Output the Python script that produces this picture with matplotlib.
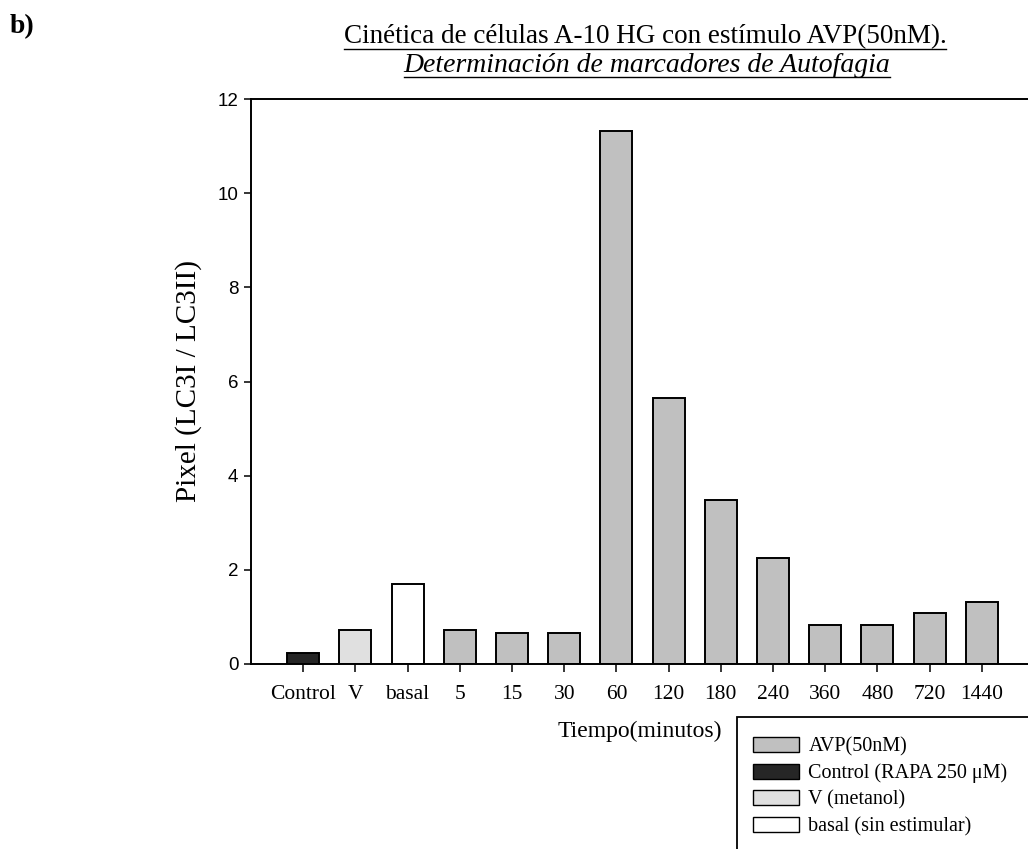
import matplotlib

matplotlib.use("Agg")
import matplotlib.pyplot as plt
from matplotlib.lines import Line2D
from matplotlib.patches import Patch, Rectangle

plt.rcParams["font.family"] = ["Liberation Serif", "DejaVu Serif"]

# LC3I / LC3II ratio per condition
categories = ["Control", "V", "basal", "5", "15", "30", "60", "120",
              "180", "240", "360", "480", "720", "1440"]
values = [0.23, 0.72, 1.70, 0.73, 0.66, 0.65, 11.32, 5.64,
          3.48, 2.25, 0.83, 0.83, 1.08, 1.31]
groups = ["Control", "V", "basal"] + ["AVP"] * 11

group_colors = {
    "AVP": "#c0c0c0",
    "Control": "#262626",
    "V": "#e0e0e0",
    "basal": "#ffffff",
}
legend_labels = {
    "AVP": "AVP(50nM)",
    "Control": "Control (RAPA 250 \u03bcM)",
    "V": "V (metanol)",
    "basal": "basal (sin estimular)",
}

W, H = 1028, 849
fig = plt.figure(figsize=(W / 100, H / 100), dpi=100)
ax = fig.add_axes([251 / W, 1 - 664 / H, 1 - 251 / W, 565 / H])

x = list(range(len(categories)))
ax.bar(x, values, width=0.61, color=[group_colors[g] for g in groups],
       edgecolor="black", linewidth=1.4, zorder=2)

ax.set_xlim(-1, -1 + (W - 251) / 52.2)
ax.set_ylim(0, 12)
ax.set_yticks(range(0, 13, 2))
ax.set_xticks(x)
ax.set_xticklabels(categories, fontsize=15.5)
for lbl in ax.get_yticklabels():
    lbl.set_fontfamily("Liberation Sans")
    lbl.set_fontsize(13.5)

ax.spines["right"].set_visible(False)
for s in ["left", "top", "bottom"]:
    ax.spines[s].set_linewidth(1.4)
ax.tick_params(axis="y", direction="out", length=5, width=1.1, pad=4)
ax.tick_params(axis="x", direction="out", length=6, width=1.1, pad=9)

ax.set_ylabel("Pixel (LC3I / LC3II)", fontsize=21, labelpad=11)
ax.set_xlabel("Tiempo(minutos)", fontsize=17, labelpad=12)

fig.text(10 / W, 1 - 27 / H, "b)", fontsize=20, fontweight="bold",
         ha="left", va="center")
t1 = fig.text(645 / W, 1 - 37 / H,
              "Cin\u00e9tica de c\u00e9lulas A-10 HG con est\u00edmulo AVP(50nM).",
              fontsize=19.5, ha="center", va="center")
t2 = fig.text(647 / W, 1 - 65 / H,
              "Determinaci\u00f3n de marcadores de Autofagia",
              fontsize=20, style="italic", ha="center", va="center")

# legend box runs off the lower right corner
fig.add_artist(Rectangle((737 / W, -0.1), 0.5, 0.1 + 1 - 717 / H,
                         transform=fig.transFigure, facecolor="none",
                         edgecolor="black", linewidth=1.3, clip_on=False))
handles = [Patch(facecolor=group_colors[k], edgecolor="black", linewidth=1.0,
                 label=legend_labels[k]) for k in ["AVP", "Control", "V", "basal"]]
fig.legend(handles=handles, loc="upper left",
           bbox_to_anchor=(739 / W, 1 - 723 / H), frameon=False,
           fontsize=14.5, handlelength=2.3, handleheight=0.75,
           handletextpad=0.45, labelspacing=0.35, borderpad=0.2)

# underline both title lines
fig.canvas.draw()
renderer = fig.canvas.get_renderer()
for t in (t1, t2):
    bb = t.get_window_extent(renderer).transformed(fig.transFigure.inverted())
    fig.add_artist(Line2D([bb.x0, bb.x1], [bb.y0 + 1 / H, bb.y0 + 1 / H],
                          transform=fig.transFigure, color="black",
                          linewidth=1.0))

fig.savefig("out.png", dpi=100)
